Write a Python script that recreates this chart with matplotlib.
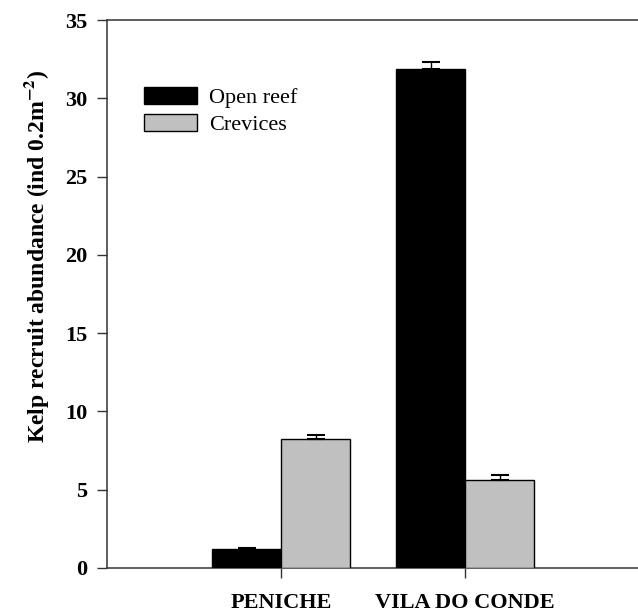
import matplotlib

matplotlib.use("Agg")
import matplotlib.pyplot as plt
import numpy as np
from matplotlib.patches import Patch

sites = ["PENICHE", "VILA DO CONDE"]
open_reef = [1.2, 31.85]
open_reef_err = [0.1, 0.5]
crevices = [8.25, 5.65]
crevices_err = [0.25, 0.27]

plt.rcParams.update({
    "font.family": "Liberation Serif",
    "mathtext.fontset": "stix",
    "axes.linewidth": 1.1,
    "axes.edgecolor": "#333333",
})

fig = plt.figure(figsize=(6.38, 6.12), dpi=100)
ax = fig.add_axes([0.1677, 0.0719, 0.8323, 0.8954])

x = np.arange(len(sites))
w = 0.375
kw = dict(edgecolor="black", linewidth=1.0, zorder=3)
ax.bar(x - w / 2, open_reef, w, color="black", **kw)
ax.bar(x + w / 2, crevices, w, color="#c0c0c0", **kw)
ax.errorbar(x - w / 2, open_reef, yerr=[np.zeros(2), open_reef_err], fmt="none",
            ecolor="black", elinewidth=1.0, capsize=6.5, capthick=1.5, zorder=4)
ax.errorbar(x + w / 2, crevices, yerr=[np.zeros(2), crevices_err], fmt="none",
            ecolor="black", elinewidth=1.0, capsize=6.5, capthick=1.5, zorder=4)

ax.set_xlim(-0.946, 1.94)
ax.set_ylim(0, 35)
ax.set_yticks(range(0, 36, 5))
ax.set_xticks(x, sites)
for lab in ax.get_xticklabels() + ax.get_yticklabels():
    lab.set_fontweight("bold")
    lab.set_fontsize(16)
ax.tick_params(direction="out", length=7.2, width=1.0, color="#333333", pad=7)
ax.tick_params(axis="x", pad=11)
ax.spines["right"].set_visible(False)

ax.set_ylabel(r"Kelp recruit abundance (ind 0.2m$^{\mathbf{-2}}$)", fontsize=17,
              fontweight="bold")
ax.yaxis.set_label_coords(-0.106, 0.5675)

handles = [Patch(facecolor="black", edgecolor="black", label="Open reef"),
           Patch(facecolor="#c0c0c0", edgecolor="black", label="Crevices")]
ax.legend(handles=handles, frameon=False, loc="upper left", bbox_to_anchor=(0.07, 0.877),
          fontsize=16, handlelength=2.36, handleheight=0.77, labelspacing=0.25,
          handletextpad=0.55, borderaxespad=0, borderpad=0)

fig.savefig("out.png", dpi=100)
